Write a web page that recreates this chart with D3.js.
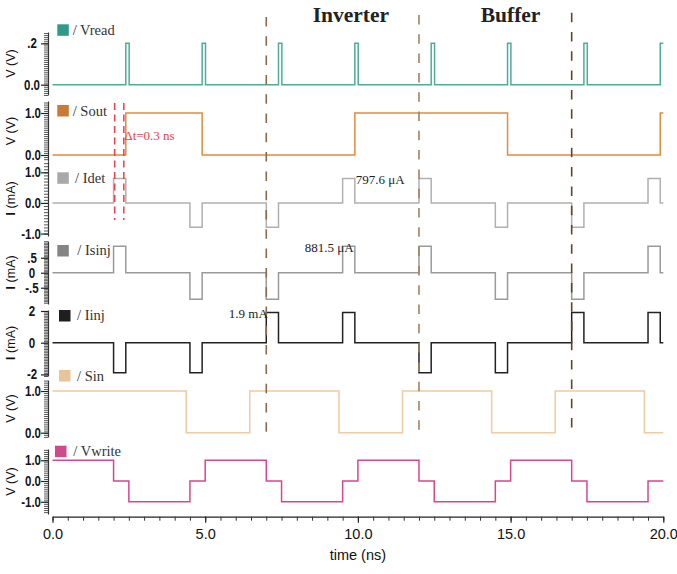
<!DOCTYPE html>
<html>
<head>
<meta charset="utf-8">
<script src="https://cdn.jsdelivr.net/npm/d3@7"></script>
<style>
  body { margin: 0; background: #fff; }
  svg { display: block; }
</style>
</head>
<body>
<svg id="chart" width="677" height="574"></svg>
<script>
// ---- time axis ----
const timeDomain = [0, 20];
const timeMajorTicks = [0, 5, 10, 15, 20];
const timeTickLabels = ['0.0', '5.0', '10.0', '15.0', '20.0'];
const timeMinorTicks = [0, 0.5, 1, 1.5, 2, 2.5, 3, 3.5, 4, 4.5, 5, 5.5, 6, 6.5, 7, 7.5, 8, 8.5, 9, 9.5,
                        10, 10.5, 11, 11.5, 12, 12.5, 13, 13.5, 14, 14.5, 15, 15.5, 16, 16.5, 17, 17.5,
                        18, 18.5, 19, 19.5, 20];

// ---- peak values ----
const idetPeak = 0.7976;   // mA
const isinjPeak = 0.8815;  // mA
const iinjPeak = 1.9;      // mA
const vreadPeak = 0.2;     // V

// ---- step waveforms: [time (ns), value] at each change ----
const vreadSteps = [[0, 0], [2.4, vreadPeak], [2.51, 0], [4.9, vreadPeak], [5.01, 0], [7.4, vreadPeak], [7.51, 0],
                    [9.9, vreadPeak], [10.01, 0], [12.4, vreadPeak], [12.51, 0], [14.9, vreadPeak], [15.01, 0],
                    [17.4, vreadPeak], [17.51, 0], [19.9, vreadPeak]];
const soutSteps = [[0, 0], [2.4, 1], [4.9, 0], [9.9, 1], [14.9, 0], [19.9, 1]];
const idetSteps = [[0, 0], [2.0, idetPeak], [2.4, 0], [4.5, -idetPeak], [4.9, 0], [7.0, -idetPeak], [7.4, 0],
                   [9.5, idetPeak], [9.9, 0], [12.0, idetPeak], [12.4, 0], [14.5, -idetPeak], [14.9, 0],
                   [17.0, -idetPeak], [17.4, 0], [19.5, idetPeak], [19.9, 0]];
const isinjSteps = [[0, 0], [2.0, isinjPeak], [2.4, 0], [4.5, -isinjPeak], [4.9, 0], [7.0, -isinjPeak], [7.4, 0],
                    [9.5, isinjPeak], [9.9, 0], [12.0, isinjPeak], [12.4, 0], [14.5, -isinjPeak], [14.9, 0],
                    [17.0, -isinjPeak], [17.4, 0], [19.5, isinjPeak], [19.9, 0]];
const iinjSteps = [[0, 0], [2.0, -iinjPeak], [2.4, 0], [4.5, -iinjPeak], [4.9, 0], [7.0, iinjPeak], [7.4, 0],
                   [9.5, iinjPeak], [9.9, 0], [12.0, -iinjPeak], [12.4, 0], [14.5, -iinjPeak], [14.9, 0],
                   [17.0, iinjPeak], [17.4, 0], [19.5, iinjPeak], [19.9, 0]];
const sinSteps = [[0, 1], [4.38, 0], [6.46, 1], [9.38, 0], [11.46, 1], [14.38, 0], [16.46, 1], [19.38, 0]];
const vwriteSteps = [[0, 1], [2.0, 0], [2.5, -1], [4.5, 0], [5.0, 1], [7.0, 0], [7.5, -1], [9.5, 0], [10.0, 1],
                     [12.0, 0], [12.5, -1], [14.5, 0], [15.0, 1], [17.0, 0], [17.5, -1], [19.5, 0]];

// ---- per-trace names, units, value ranges and tick labels ----
const signalNames = ['Vread', 'Sout', 'Idet', 'Isinj', 'Iinj', 'Sin', 'Vwrite'];
const signalUnits = ['V', 'V', 'I', 'I', 'I', 'V', 'V'];
const signalSteps = [vreadSteps, soutSteps, idetSteps, isinjSteps, iinjSteps, sinSteps, vwriteSteps];
const yDomains = [[-0.05, 0.255], [-0.143, 1.286], [-1.08, 1.37], [-1.043, 1.057], [-2.1, 2.063], [-0.103, 1.264], [-1.59, 1.542]];
const yTickValues = [[0.2, 0], [1, 0], [1, 0, -1], [0.5, 0, -0.5], [2, 0, -2], [1, 0], [1, 0, -1]];
const yTickLabels = [['.2', '0.0'], ['1.0', '0.0'], ['1.0', '0.0', '-1.0'], ['.5', '0', '-.5'], ['2', '0', '-2'], ['1.0', '0.0'], ['1.0', '0.0', '-1.0']];

// ---- annotations ----
const phaseMarkers = [7, 12, 17];
const phaseNames = ['Inverter', 'Buffer'];
const deltaStart = 2.035;
const deltaT = 0.3;

// ---- layout and styling ----
const panelLayout = [
  { top: 32,  bottom: 95,  sw: [57.3, 24.3],  tx: 72.7, ty: 35.2,  anchor: 'middle', lx: 32 },
  { top: 101, bottom: 161, sw: [57.3, 105],   tx: 72.7, ty: 115.8, anchor: 'end', lx: 41 },
  { top: 161, bottom: 236, sw: [57.3, 172.3], tx: 75,   ty: 182.8, anchor: 'end', lx: 41 },
  { top: 241, bottom: 304, sw: [57.3, 245],   tx: 77.3, ty: 254.5, anchor: 'middle', lx: 32 },
  { top: 310, bottom: 376, sw: [59, 310],     tx: 77,   ty: 319.5, anchor: 'middle', lx: 32 },
  { top: 380, bottom: 437, sw: [59, 370],     tx: 77,   ty: 381,   anchor: 'end', lx: 41 },
  { top: 449, bottom: 514, sw: [55, 445.7],   tx: 73.3, ty: 455.5, anchor: 'end', lx: 41 }
];
const swatchColors = ['#2f9a87', '#c97a33', '#a9a9a9', '#858585', '#1f1f1f', '#e9c49b', '#d04a8b'];
const lineColors   = ['#4eac98', '#e08b3e', '#b0b0b0', '#9a9a9a', '#222222', '#f0caa2', '#d8468f'];
const markerColors = ['#8a6a48', '#a08262', '#5a4630'];
const markerSpans  = [[17, 436], [15, 433], [12.7, 431]];
const phaseLabelX  = [312.7, 480.7];

const svg = d3.select('#chart');
svg.append('rect').attr('width', 677).attr('height', 574).attr('fill', '#fff');

const x = d3.scaleLinear().domain(timeDomain).range([52.5, 663.3]);
const axisX = 48;
const tickFont = "'Liberation Sans', Arial, sans-serif";

signalNames.forEach((name, i) => {
  const L = panelLayout[i];
  const y = d3.scaleLinear().domain(yDomains[i]).range([L.bottom, L.top]);
  const g = svg.append('g');

  // dense comb of minor ticks plus the axis line
  const minor = d3.ticks(yDomains[i][0], yDomains[i][1], 30);
  const ax = g.append('g').attr('transform', `translate(${axisX},0)`)
    .call(d3.axisLeft(y).tickValues(minor).tickSize(4).tickSizeOuter(0).tickFormat(''));
  ax.selectAll('line').attr('stroke', '#444').attr('stroke-width', 0.9);
  ax.select('.domain').attr('stroke', '#333').attr('stroke-width', 1.2);

  const major = g.append('g').attr('transform', `translate(${axisX},0)`)
    .call(d3.axisLeft(y).tickValues(yTickValues[i]).tickSize(7).tickFormat(''));
  major.select('.domain').remove();
  major.selectAll('line').attr('stroke', '#222').attr('stroke-width', 1.2);

  // condensed semi-bold value labels
  yTickValues[i].forEach((v, k) => {
    g.append('text')
      .attr('transform', `translate(${L.lx},${y(v) + 5}) scale(0.82,1)`)
      .attr('text-anchor', L.anchor)
      .attr('font-family', tickFont)
      .attr('font-weight', 'bold')
      .attr('font-size', 14)
      .attr('fill', '#151515')
      .text(yTickLabels[i][k]);
  });

  // axis title
  const cy = (L.top + L.bottom) / 2;
  const title = g.append('text')
    .attr('transform', `translate(14.5,${cy}) rotate(-90)`)
    .attr('text-anchor', 'middle')
    .attr('font-family', 'Liberation Sans, Arial, sans-serif')
    .attr('font-size', 12.5)
    .attr('fill', '#111');
  if (signalUnits[i] === 'V') {
    title.text('V (V)');
  } else {
    title.append('tspan').attr('font-weight', 'bold').attr('font-size', 13.5).text('I');
    title.append('tspan').text(' (mA)');
  }

  // waveform
  const steps = signalSteps[i];
  const pts = steps.concat([[timeDomain[1], steps[steps.length - 1][1]]]);
  g.append('path')
    .datum(pts)
    .attr('fill', 'none')
    .attr('stroke', lineColors[i])
    .attr('stroke-width', 1.5)
    .attr('d', d3.line().x(d => x(d[0])).y(d => y(d[1])).curve(d3.curveStepAfter));

  // legend
  g.append('rect')
    .attr('x', L.sw[0]).attr('y', L.sw[1]).attr('width', 11.5).attr('height', 11.5)
    .attr('fill', swatchColors[i]);
  g.append('text')
    .attr('x', L.tx).attr('y', L.ty)
    .attr('font-family', 'Liberation Serif, Times New Roman, serif')
    .attr('font-size', 14.5)
    .attr('fill', '#333')
    .text('/ ' + name);

  panelLayout[i].scale = y;
});

// time axis
const xg = svg.append('g').attr('transform', 'translate(0,516.7)');
const xMinor = xg.append('g').call(d3.axisBottom(x).tickValues(timeMinorTicks).tickSize(4).tickSizeOuter(0).tickFormat(''));
xMinor.selectAll('line').attr('stroke', '#333');
xMinor.select('.domain').attr('stroke', '#222').attr('stroke-width', 1.3);
const xMajor = xg.append('g').call(d3.axisBottom(x).tickValues(timeMajorTicks).tickSize(6)
  .tickFormat((d, k) => timeTickLabels[k]).tickPadding(6));
xMajor.select('.domain').remove();
xMajor.selectAll('line').attr('stroke', '#222').attr('stroke-width', 1.2);
xMajor.selectAll('text')
  .attr('font-family', 'Liberation Sans, Arial, sans-serif')
  .attr('font-size', 14.5)
  .attr('fill', '#111');
svg.append('text')
  .attr('x', x(10)).attr('y', 560)
  .attr('text-anchor', 'middle')
  .attr('font-family', 'Liberation Sans, Arial, sans-serif')
  .attr('font-size', 14.5)
  .attr('fill', '#111')
  .text('time (ns)');

// phase boundary markers
phaseMarkers.forEach((t, k) => {
  svg.append('line')
    .attr('x1', x(t)).attr('x2', x(t))
    .attr('y1', markerSpans[k][0]).attr('y2', markerSpans[k][1])
    .attr('stroke', markerColors[k])
    .attr('stroke-width', 1.6)
    .attr('stroke-dasharray', '9.5,9.8');
});
phaseNames.forEach((name, k) => {
  svg.append('text')
    .attr('x', phaseLabelX[k])
    .attr('y', 22.3)
    .attr('font-family', 'Liberation Serif, Times New Roman, serif')
    .attr('font-weight', 'bold')
    .attr('font-size', 21.5)
    .attr('fill', '#222')
    .text(name);
});

// delay markers between Idet onset and Sout rise
[deltaStart, deltaStart + deltaT].forEach(t => {
  svg.append('line')
    .attr('x1', x(t)).attr('x2', x(t))
    .attr('y1', 103).attr('y2', 220)
    .attr('stroke', '#ea3f4c')
    .attr('stroke-width', 1.5)
    .attr('stroke-dasharray', '7,4.5');
});
svg.append('text')
  .attr('x', x(deltaStart + deltaT) + 0.5).attr('y', 140.4)
  .attr('font-family', 'Liberation Serif, Times New Roman, serif')
  .attr('font-size', 13)
  .attr('fill', '#ea3f4c')
  .text(`Δt=${deltaT} ns`);

// peak value labels
const peakNotes = [
  { panel: 2, t: 9.5, v: idetPeak, text: `${(idetPeak * 1000).toFixed(1)} μA`, anchor: 'start', dx: 1 },
  { panel: 3, t: 9.5, v: isinjPeak, text: `${(isinjPeak * 1000).toFixed(1)} μA`, anchor: 'end', dx: 11 },
  { panel: 4, t: 7.0, v: iinjPeak, text: `${iinjPeak} mA`, anchor: 'end', dx: 1.5 }
];
peakNotes.forEach(n => {
  const y = panelLayout[n.panel].scale;
  const px = n.anchor === 'start' ? x(n.t + 0.4) + n.dx : x(n.t) + n.dx;
  svg.append('text')
    .attr('x', px).attr('y', y(n.v) + 5.5)
    .attr('text-anchor', n.anchor)
    .attr('font-family', 'Liberation Serif, Times New Roman, serif')
    .attr('font-size', 13)
    .attr('fill', '#222')
    .text(n.text);
});
</script>
</body>
</html>
